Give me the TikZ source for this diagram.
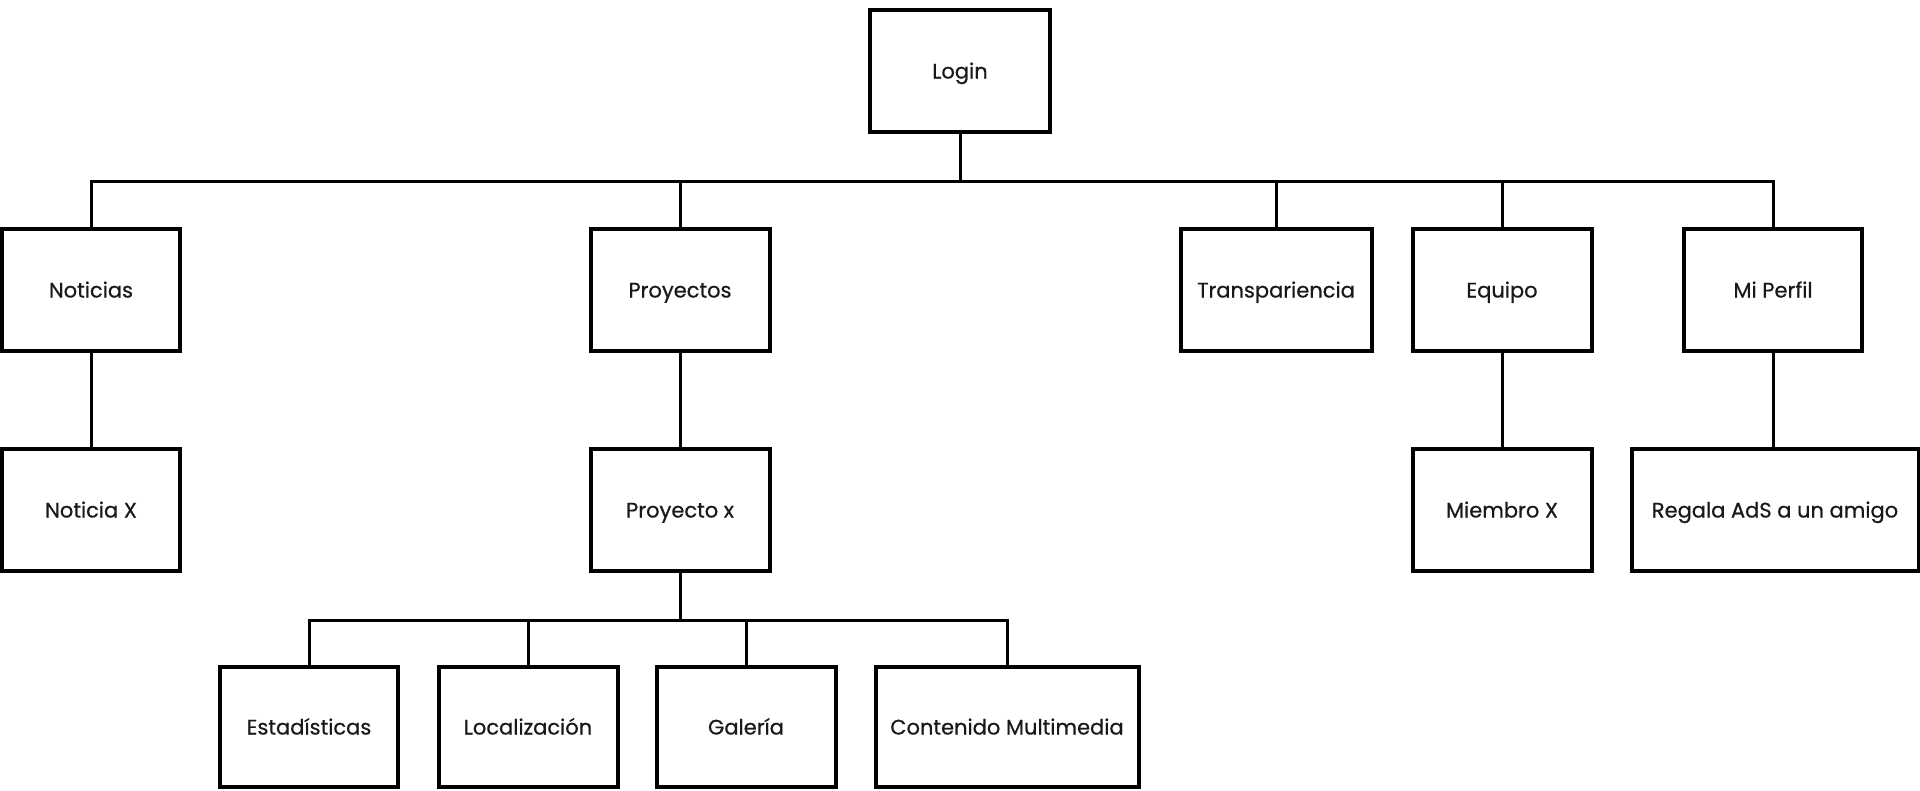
\documentclass[tikz,border=0pt]{standalone}
\usepackage{fontspec}
\setmainfont{Poppins}
\newfontfamily\boxfont{Poppins}[FakeBold=0.6]
\begin{document}
\begin{tikzpicture}[x=1pt,y=-1pt,
  box/.style={draw=black,line width=4pt,fill=white,minimum height=122pt,inner sep=0pt,text height=15pt,text depth=0pt,font=\boxfont\fontsize{21}{25}\selectfont,text=black!90},
  wire/.style={draw=black,line width=3pt}]
\useasboundingbox (0,0) rectangle (1920,790);
% nodes
\node[box,minimum width=180pt] (login) at (960,71) {Login};
\node[box,minimum width=178pt] (noticias) at (91,290) {Noticias};
\node[box,minimum width=179pt] (proyectos) at (680,290) {Proyectos};
\node[box,minimum width=191pt] (transp) at (1276,290) {Transpariencia};
\node[box,minimum width=179pt] (equipo) at (1502,290) {Equipo};
\node[box,minimum width=178pt] (perfil) at (1773,290) {Mi Perfil};
\node[box,minimum width=178pt] (noticiax) at (91,510) {Noticia X};
\node[box,minimum width=179pt] (proyectox) at (680,510) {Proyecto x};
\node[box,minimum width=179pt] (miembro) at (1502,510) {Miembro X};
\node[box,minimum width=287pt] (regala) at (1775,510) {Regala AdS a un amigo};
\node[box,minimum width=178pt,minimum height=120pt] (estad) at (309,727) {Estadísticas};
\node[box,minimum width=179pt,minimum height=120pt] (local) at (528,727) {Localización};
\node[box,minimum width=179pt,minimum height=120pt] (galeria) at (746,727) {Galería};
\node[box,minimum width=263pt,minimum height=120pt] (multi) at (1007,727) {Contenido Multimedia};
% bus coordinates
\coordinate (b1) at (960,181);
\coordinate (b2) at (680,620);
% connectors level 1
\draw[wire] (login.south) -- (b1);
\draw[wire] (noticias.north) |- (b1);
\draw[wire] (perfil.north) |- (b1);
\draw[wire] (proyectos.north) -- (proyectos.north |- b1);
\draw[wire] (transp.north) -- (transp.north |- b1);
\draw[wire] (equipo.north) -- (equipo.north |- b1);
% vertical links
\draw[wire] (noticias.south) -- (noticiax.north);
\draw[wire] (proyectos.south) -- (proyectox.north);
\draw[wire] (equipo.south) -- (miembro.north);
\draw[wire] (perfil.south) -- (perfil.south |- regala.north);
% level 3
\draw[wire] (proyectox.south) -- (b2);
\draw[wire] (estad.north) |- (b2);
\draw[wire] (multi.north) |- (b2);
\draw[wire] (local.north) -- (local.north |- b2);
\draw[wire] (galeria.north) -- (galeria.north |- b2);
\end{tikzpicture}
\end{document}
